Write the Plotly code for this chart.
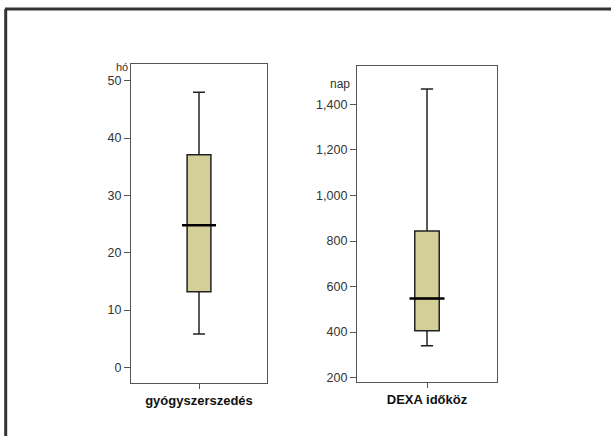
import plotly.graph_objects as go

# Data
categories = ["gyógyszerszedés", "DEXA időköz"]
axis_units = ["hó", "nap"]
lower_whisker = [5.8, 340]
q1_values = [13.2, 406]
median_values = [24.8, 547]
q3_values = [37.1, 844]
upper_whisker = [48.0, 1468]
y_ticks_1 = [0, 10, 20, 30, 40, 50]
y_ticks_2 = [200, 400, 600, 800, 1000, 1200, 1400]

fill = "#d4cf98"
font_family = "Liberation Sans, Arial, sans-serif"

fig = go.Figure()
for i, cat in enumerate(categories):
    ax = "" if i == 0 else str(i + 1)
    fig.add_trace(go.Box(
        x=[cat], q1=[q1_values[i]], median=[median_values[i]], q3=[q3_values[i]],
        lowerfence=[lower_whisker[i]], upperfence=[upper_whisker[i]],
        fillcolor=fill, line=dict(color="#222222", width=1.5),
        whiskerwidth=0.5, boxpoints=False, showlegend=False, hoverinfo="skip",
        xaxis="x" + ax, yaxis="y" + ax,
    ))
    # thicker median line
    fig.add_shape(type="line", xref="x" + ax, yref="y" + ax,
                  x0=-0.125, x1=0.125, y0=median_values[i], y1=median_values[i],
                  line=dict(color="black", width=2.5))

axis_common = dict(showline=True, linecolor="#555555", linewidth=1.2, mirror=True,
                   ticks="outside", ticklen=6, tickcolor="#555555", showgrid=False,
                   zeroline=False, tickfont=dict(family=font_family, size=12.5, color="#333333"))
xtickfont = dict(family=font_family, size=13, color="#111111")

fig.update_layout(
    width=611, height=439, margin=dict(l=0, r=0, t=0, b=0),
    paper_bgcolor="white", plot_bgcolor="white", boxgap=0.75,
    xaxis=dict(domain=[131/611, 267/611], anchor="y", type="category", range=[-0.5, 0.5],
               tickvals=[categories[0]], ticktext=["<b>" + categories[0] + "</b>"],
               **{**axis_common, "tickfont": xtickfont, "ticklen": 5}),
    yaxis=dict(domain=[1-386/439, 1-64/439], anchor="x", range=[-2.8, 53],
               tickvals=y_ticks_1, **axis_common),
    xaxis2=dict(domain=[357/611, 497/611], anchor="y2", type="category", range=[-0.5, 0.5],
                tickvals=[categories[1]], ticktext=["<b>" + categories[1] + "</b>"],
                **{**axis_common, "tickfont": xtickfont, "ticklen": 5}),
    yaxis2=dict(domain=[1-385/439, 1-66/439], anchor="x2", range=[179, 1571],
                tickvals=y_ticks_2, tickformat=",d", **axis_common),
    annotations=[
        dict(text=axis_units[0], xref="paper", yref="paper", x=122/611, y=1-67/439,
             xanchor="center", yanchor="middle",
             showarrow=False, font=dict(family=font_family, size=11, color="#333333")),
        dict(text=axis_units[1], xref="paper", yref="paper", x=340/611, y=1-85/439,
             xanchor="center", yanchor="middle",
             showarrow=False, font=dict(family=font_family, size=12, color="#333333")),
    ],
)

# outer frame (top and left edges)
fig.add_shape(type="line", xref="paper", yref="paper", x0=5/611, x1=1, y0=1-9/439, y1=1-9/439,
              line=dict(color="#333333", width=3))
fig.add_shape(type="line", xref="paper", yref="paper", x0=5.7/611, x1=5.7/611, y0=0, y1=1-9/439,
              line=dict(color="#333333", width=3))

fig.write_html("out.html", config={"displayModeBar": False},
               post_script="document.body.style.margin='0';document.body.style.overflow='hidden';")
